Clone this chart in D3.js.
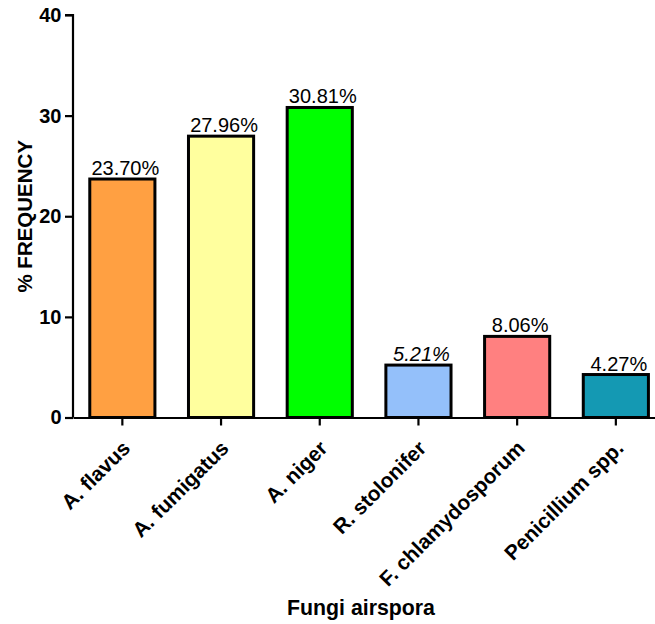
<!DOCTYPE html>
<html><head><meta charset="utf-8">
<script src="https://cdn.jsdelivr.net/npm/d3@7"></script>
<style>body{margin:0;background:#fff}svg{display:block}text{font-family:"Liberation Sans",Arial,sans-serif}</style>
</head><body>
<svg id="c" width="655" height="624"></svg>
<script>
const categories = ["A. flavus","A. fumigatus","A. niger","R. stolonifer","F. chlamydosporum","Penicillium spp."];
const values = [23.70, 27.96, 30.81, 5.21, 8.06, 4.27];
const valueLabels = ["23.70%","27.96%","30.81%","5.21%","8.06%","4.27%"];
const colors = ["#FFA042","#FFFF9E","#00FF00","#94C0FA","#FF8080","#1499B3"];
const yTicks = [0,10,20,30,40];

const svg = d3.select("#c");
const mLeft = 73, mBottom = 417.5, mTop = 15;
const x = d3.scaleBand().domain(categories).range([mLeft, mLeft + 6*98.7]).paddingInner(0.34).paddingOuter(0.17);
const y = d3.scaleLinear().domain([0,40]).range([mBottom, mTop]);

// bars
svg.selectAll("rect.bar").data(values).enter().append("rect")
  .attr("x",(d,i)=>x(categories[i])).attr("width",x.bandwidth())
  .attr("y",d=>y(d)).attr("height",d=>y(0)-y(d))
  .attr("fill",(d,i)=>colors[i]).attr("stroke","#000").attr("stroke-width",3);

// value labels
svg.selectAll("text.val").data(values).enter().append("text")
  .attr("x",(d,i)=>x(categories[i])+x.bandwidth()/2+3).attr("y",d=>y(d)-4)
  .attr("text-anchor","middle").attr("font-size",20)
  .attr("font-style",(d,i)=>i===3?"italic":"normal")
  .text((d,i)=>valueLabels[i]);

// y axis
const ya = svg.append("g").attr("transform",`translate(${mLeft},0)`)
  .call(d3.axisLeft(y).tickValues(yTicks).tickSize(8).tickPadding(3.5).tickFormat(d3.format("d")));
ya.select(".domain").attr("stroke","#000").attr("stroke-width",2.2).attr("d",`M-8,${mTop}H0V${mBottom}`);
ya.selectAll(".tick line").attr("stroke","#000").attr("stroke-width",2.2);
ya.selectAll(".tick text").attr("font-size",20).attr("font-weight","bold").attr("fill","#000")
  .attr("font-family","Liberation Sans, Arial, sans-serif");

// x axis
const xa = svg.append("g").attr("transform",`translate(0,${mBottom})`)
  .call(d3.axisBottom(x).tickSize(8).tickSizeOuter(0).tickPadding(6));
xa.select(".domain").attr("stroke","#000").attr("stroke-width",2.2);
xa.selectAll(".tick line").attr("stroke","#000").attr("stroke-width",2.2);
xa.selectAll(".tick text").attr("font-size",20.8).attr("font-weight","bold").attr("fill","#000")
  .attr("font-family","Liberation Sans, Arial, sans-serif")
  .attr("text-anchor","end").attr("dy",0)
  .attr("transform","translate(9,32) rotate(-45)")
  .attr("y",0).attr("x",0);

// axis titles
svg.append("text").attr("transform",`translate(32,${(mTop+mBottom)/2}) rotate(-90)`)
  .attr("text-anchor","middle").attr("font-size",20.5).attr("font-weight","bold").text("% FREQUENCY");
svg.append("text").attr("x",361).attr("y",615).attr("text-anchor","middle")
  .attr("font-size",21.3).attr("font-weight","bold").text("Fungi airspora");
</script>
</body></html>
